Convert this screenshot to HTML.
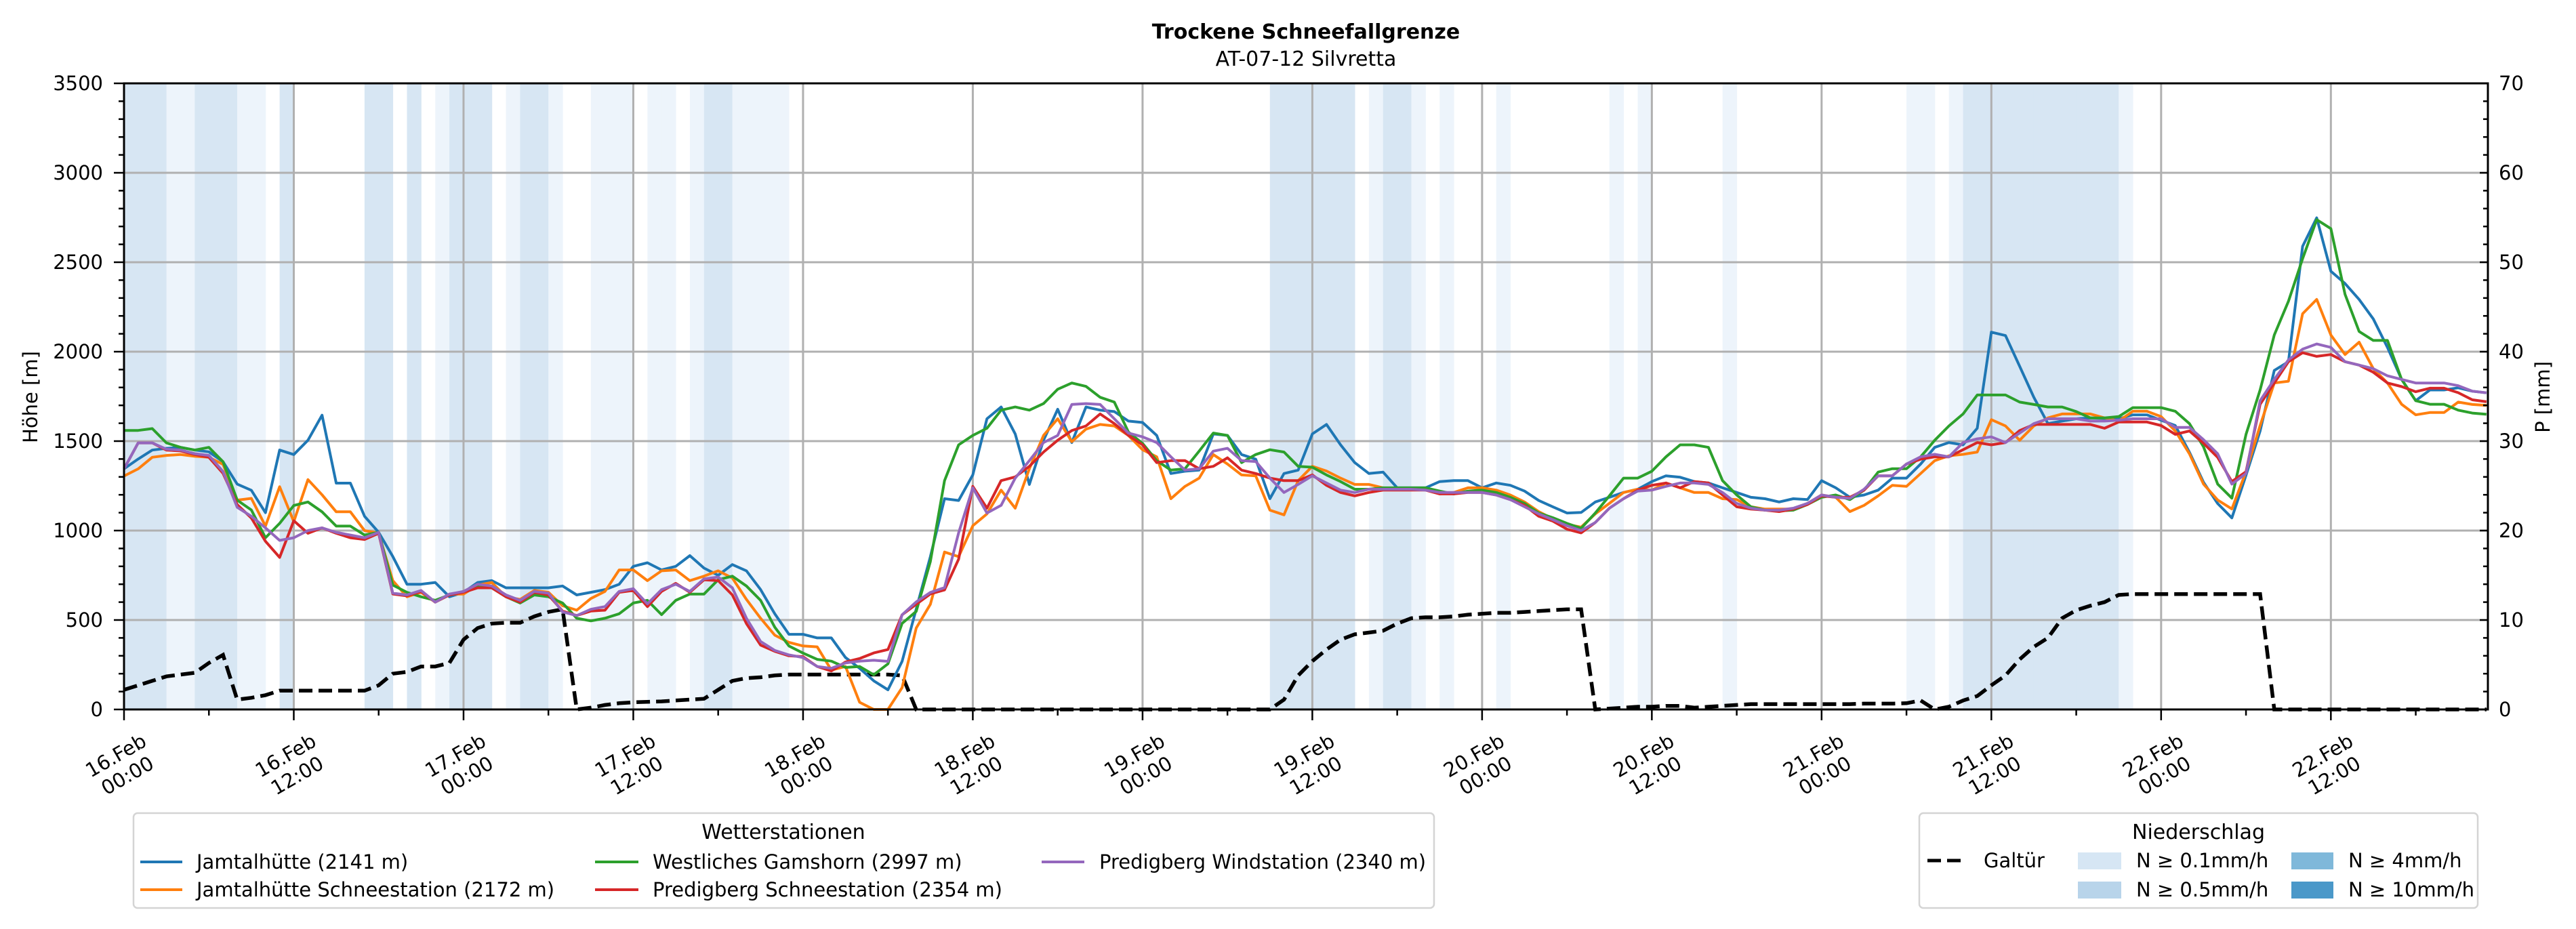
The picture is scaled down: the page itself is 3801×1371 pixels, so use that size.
<!DOCTYPE html>
<html><head><meta charset="utf-8">
<style>
html,body{margin:0;padding:0;background:#fff;}
svg{display:block;font-family:"DejaVu Sans","Liberation Sans",sans-serif;}
</style></head>
<body>
<svg id="chart" width="3801" height="1371" viewBox="0 0 3801 1371" xmlns="http://www.w3.org/2000/svg">
  <rect x="0" y="0" width="3801" height="1371" fill="#fff"/>
  <g id="bands"></g>
  <g id="grid"></g>
  <g id="series"></g>
  <g id="axes"></g>
  <text x="1927" y="57" text-anchor="middle" font-size="30" font-weight="bold">Trockene Schneefallgrenze</text>
  <text x="1927" y="97" text-anchor="middle" font-size="30">AT-07-12 Silvretta</text>
  <text transform="translate(55,586) rotate(-90)" text-anchor="middle" font-size="29">Höhe [m]</text>
  <text transform="translate(3762,586) rotate(-90)" text-anchor="middle" font-size="29">P [mm]</text>

  <g>
    <rect x="197" y="1200" width="1919" height="140" rx="6" fill="#fff" stroke="#d4d4d4" stroke-width="2.5"/>
    <text x="1156" y="1238" text-anchor="middle" font-size="30">Wetterstationen</text>
    <g><line x1="207" y1="1272" x2="269" y2="1272" stroke="#1f77b4" stroke-width="4"/><text x="290" y="1282" font-size="29">Jamtalhütte (2141 m)</text></g>
    <g><line x1="207" y1="1313" x2="269" y2="1313" stroke="#ff7f0e" stroke-width="4"/><text x="290" y="1323" font-size="29">Jamtalhütte Schneestation (2172 m)</text></g>
    <g><line x1="878" y1="1272" x2="942" y2="1272" stroke="#2ca02c" stroke-width="4"/><text x="963" y="1282" font-size="29">Westliches Gamshorn (2997 m)</text></g>
    <g><line x1="878" y1="1313" x2="942" y2="1313" stroke="#d62728" stroke-width="4"/><text x="963" y="1323" font-size="29">Predigberg Schneestation (2354 m)</text></g>
    <g><line x1="1537" y1="1272" x2="1600" y2="1272" stroke="#9467bd" stroke-width="4"/><text x="1622" y="1282" font-size="29">Predigberg Windstation (2340 m)</text></g>
  </g>

  <g>
    <rect x="2832" y="1200" width="824" height="140" rx="6" fill="#fff" stroke="#d4d4d4" stroke-width="2.5"/>
    <text x="3244" y="1238" text-anchor="middle" font-size="30">Niederschlag</text>
    <g><line x1="2844" y1="1270" x2="2900" y2="1270" stroke="#000" stroke-width="5" stroke-dasharray="20,9"/><text x="2927" y="1280" font-size="29">Galtür</text></g>
    <g><rect x="3066" y="1258" width="64" height="25" fill="#d6e6f4"/><text x="3152" y="1280" font-size="29">N ≥ 0.1mm/h</text></g>
    <g><rect x="3066" y="1301" width="64" height="25" fill="#b8d4ea"/><text x="3152" y="1323" font-size="29">N ≥ 0.5mm/h</text></g>
    <g><rect x="3381" y="1258" width="62" height="25" fill="#7fb8da"/><text x="3465" y="1280" font-size="29">N ≥ 4mm/h</text></g>
    <g><rect x="3381" y="1301" width="62" height="25" fill="#4a98c9"/><text x="3465" y="1323" font-size="29">N ≥ 10mm/h</text></g>
  </g>
</svg>
<script>
// ---- data (hourly, hour 0 = 16.Feb 00:00) ----
const jamtal = [1345,1400,1450,1460,1465,1450,1440,1385,1260,1225,1100,1450,1425,1505,1645,1265,1265,1080,990,855,700,700,710,630,655,710,720,680,680,680,680,690,640,655,670,700,800,820,780,800,860,790,750,810,775,670,535,420,420,400,400,290,230,160,110,269,561,854,1178,1168,1311,1625,1691,1540,1258,1505,1678,1492,1691,1673,1665,1612,1604,1532,1319,1332,1338,1540,1532,1425,1399,1178,1319,1338,1540,1593,1479,1380,1319,1327,1239,1239,1239,1274,1279,1279,1239,1266,1253,1221,1168,1133,1098,1101,1160,1186,1213,1231,1274,1306,1298,1274,1266,1239,1213,1186,1178,1160,1178,1173,1279,1239,1186,1199,1226,1293,1293,1372,1465,1492,1479,1572,2109,2090,1918,1745,1598,1612,1625,1630,1627,1625,1647,1647,1617,1587,1438,1270,1151,1071,1309,1557,1895,1944,2589,2748,2450,2381,2292,2183,2024,1845,1726,1786,1786,1798,1779,1770];
const jamtalSchnee = [1305,1345,1410,1420,1425,1415,1410,1370,1170,1180,1025,1245,1050,1285,1200,1105,1105,1000,985,720,630,655,600,645,645,695,710,630,615,665,655,580,555,620,660,780,780,720,775,780,720,745,775,735,615,510,415,375,355,350,220,240,40,0,0,122,455,588,880,854,1027,1093,1226,1125,1346,1532,1625,1497,1567,1593,1585,1532,1452,1412,1178,1247,1293,1425,1372,1311,1306,1114,1088,1279,1359,1333,1293,1258,1258,1239,1231,1231,1231,1205,1213,1239,1239,1226,1199,1160,1106,1066,1035,1019,1093,1152,1213,1231,1226,1266,1239,1213,1213,1178,1173,1133,1120,1120,1120,1152,1199,1186,1106,1141,1194,1253,1247,1319,1391,1418,1426,1439,1620,1585,1505,1585,1630,1652,1652,1652,1630,1612,1667,1667,1637,1557,1429,1260,1171,1121,1329,1587,1825,1835,2212,2292,2093,1984,2053,1905,1825,1706,1647,1660,1660,1718,1705,1700];
const gamshorn = [1560,1560,1570,1490,1465,1450,1465,1385,1170,1115,960,1040,1140,1160,1105,1025,1025,975,990,695,655,630,610,640,660,695,680,630,595,640,630,595,510,495,510,535,595,610,530,610,645,645,725,745,690,610,460,355,315,280,270,235,240,194,255,481,548,827,1279,1479,1532,1572,1673,1691,1673,1710,1790,1825,1806,1745,1718,1551,1487,1391,1338,1346,1444,1545,1532,1380,1425,1452,1439,1359,1354,1311,1274,1231,1231,1239,1239,1239,1239,1221,1205,1221,1226,1213,1186,1152,1098,1072,1040,1013,1098,1194,1293,1293,1332,1412,1479,1479,1465,1279,1199,1133,1114,1110,1114,1146,1186,1199,1173,1226,1327,1346,1346,1412,1505,1585,1652,1758,1758,1758,1718,1705,1691,1691,1665,1630,1630,1637,1687,1687,1687,1667,1598,1468,1260,1181,1538,1786,2093,2282,2520,2738,2688,2321,2113,2063,2063,1845,1726,1706,1706,1673,1657,1650];
const predSchnee = [1345,1490,1490,1450,1445,1425,1410,1320,1145,1070,940,850,1055,985,1015,985,960,950,985,645,635,660,600,640,655,680,680,630,600,655,640,550,525,550,555,655,665,575,660,705,655,725,720,640,480,360,325,300,295,240,215,265,285,316,335,529,588,646,668,840,1247,1125,1279,1300,1359,1439,1505,1559,1585,1652,1598,1532,1479,1380,1391,1391,1346,1359,1407,1338,1319,1293,1279,1279,1311,1253,1213,1194,1213,1226,1226,1226,1226,1205,1205,1213,1213,1199,1173,1141,1080,1053,1008,987,1045,1125,1178,1226,1253,1266,1239,1274,1266,1199,1133,1120,1114,1106,1120,1146,1194,1186,1186,1226,1306,1306,1372,1399,1412,1412,1452,1492,1479,1492,1559,1593,1593,1593,1593,1593,1572,1607,1607,1607,1587,1538,1557,1488,1409,1274,1329,1706,1825,1944,1994,1974,1984,1944,1925,1885,1825,1805,1776,1796,1796,1771,1731,1720];
const predWind = [1345,1490,1490,1455,1450,1430,1420,1330,1130,1080,1015,945,960,1000,1015,990,975,960,990,650,640,665,600,645,660,700,690,640,610,660,650,545,525,560,575,660,675,590,670,700,660,730,740,680,510,380,330,305,290,240,230,260,270,275,269,529,601,654,681,987,1239,1098,1141,1293,1391,1492,1532,1705,1710,1705,1625,1545,1524,1492,1412,1338,1346,1444,1460,1391,1386,1293,1213,1258,1306,1266,1226,1213,1231,1231,1231,1231,1226,1213,1213,1213,1213,1199,1173,1133,1093,1061,1027,1000,1045,1125,1178,1221,1226,1247,1266,1266,1258,1213,1152,1125,1114,1114,1125,1152,1199,1186,1180,1231,1306,1306,1372,1412,1426,1412,1492,1513,1524,1492,1545,1598,1625,1625,1625,1612,1612,1617,1625,1625,1625,1577,1577,1508,1429,1260,1319,1726,1845,1954,2014,2043,2024,1944,1925,1905,1865,1845,1825,1825,1825,1810,1779,1770];
const galtuer = [2.2,2.7,3.2,3.7,3.9,4.1,5.2,6.1,1.1,1.3,1.6,2.1,2.1,2.1,2.1,2.1,2.1,2.1,2.7,4.0,4.2,4.8,4.8,5.2,7.8,9.1,9.6,9.7,9.7,10.4,10.9,11.2,0,0.2,0.5,0.7,0.8,0.85,0.9,1.0,1.1,1.2,2.2,3.2,3.5,3.6,3.8,3.9,3.9,3.9,3.9,3.9,3.9,3.9,3.9,3.8,0,0,0,0,0,0,0,0,0,0,0,0,0,0,0,0,0,0,0,0,0,0,0,0,0,0,1.1,3.8,5.4,6.7,7.8,8.4,8.6,8.8,9.6,10.2,10.3,10.3,10.4,10.6,10.7,10.8,10.8,10.9,11.0,11.1,11.2,11.2,0,0.1,0.2,0.3,0.3,0.4,0.4,0.2,0.3,0.4,0.5,0.6,0.6,0.6,0.6,0.6,0.6,0.6,0.6,0.65,0.65,0.65,0.7,1.0,0,0.3,1.0,1.5,2.7,3.8,5.6,7.0,8.0,10.2,11.1,11.6,12.0,12.8,12.9,12.9,12.9,12.9,12.9,12.9,12.9,12.9,12.9,12.9,0,0,0,0,0,0,0,0,0,0,0,0,0,0,0,0];
// precipitation class per hour: 0 none, 1 N>=0.1, 2 N>=0.5
const precipClass = [2,2,2,1,1,2,2,2,1,1,0,2,0,0,0,0,0,2,2,0,2,0,1,2,2,2,0,1,2,2,1,0,0,1,1,1,0,1,1,0,1,2,2,1,1,1,1,0,0,0,0,0,0,0,0,0,0,0,0,0,0,0,0,0,0,0,0,0,0,0,0,0,0,0,0,0,0,0,0,0,0,2,2,2,2,2,2,0,1,2,2,1,0,1,0,0,0,1,0,0,0,0,0,0,0,1,0,1,0,0,0,0,0,1,0,0,0,0,0,0,0,0,0,0,0,0,1,1,0,1,2,2,2,2,2,2,2,2,2,2,2,1,0,0,0,0,0,0,0,0,0,0,0,0,0,0,0,0,0,0,0,0,0,0,0,0];
const xTickLabels = ["16.Feb|00:00","16.Feb|12:00","17.Feb|00:00","17.Feb|12:00","18.Feb|00:00","18.Feb|12:00","19.Feb|00:00","19.Feb|12:00","20.Feb|00:00","20.Feb|12:00","21.Feb|00:00","21.Feb|12:00","22.Feb|00:00","22.Feb|12:00"];
const yTicks = [0,500,1000,1500,2000,2500,3000,3500];
const y2Ticks = [0,10,20,30,40,50,60,70];

// ---- geometry ----
const L=183,R=3671,T=123,B=1047;
const HMAX=167.1;
const xs = h => L + (R-L)*h/HMAX;
const ys = v => B - (B-T)*v/3500;
const ys2 = v => B - (B-T)*v/70;
const NS="http://www.w3.org/2000/svg";
function mk(tag, attrs, parent){const e=document.createElementNS(NS,tag);for(const k in attrs)e.setAttribute(k,attrs[k]);parent.appendChild(e);return e;}

// bands
const bandG=document.getElementById('bands');
const bandCol=[null,"#edf4fb","#d7e6f3"];
precipClass.forEach((c,h)=>{
  if(!c) return;
  const r=mk('rect',{x:xs(h),y:T,width:xs(h+1)-xs(h)+0.5,height:B-T,fill:bandCol[c]},bandG);
  
  
});

// grid
const gridG=document.getElementById('grid');
xTickLabels.forEach((_,i)=>{
  const x=xs(i*12);
  const l=mk('line',{x1:x,y1:T,x2:x,y2:B,stroke:"#b0b0b0","stroke-width":3},gridG);
  
  
});
yTicks.forEach(v=>{
  const y=ys(v);
  const l=mk('line',{x1:L,y1:y,x2:R,y2:y,stroke:"#b0b0b0","stroke-width":3},gridG);
  
  
});

// series
const serG=document.getElementById('series');
function line(data, scale, color, name, extra){
  const pts=data.map((v,h)=>xs(h).toFixed(1)+","+scale(v).toFixed(1)).join(" ");
  const p=mk('polyline',Object.assign({points:pts,fill:"none",stroke:color,"stroke-width":4,"stroke-linejoin":"round"},extra||{}),serG);
  
  
}
line(galtuer, ys2, "#000", "galtuer-precip-line", {"stroke-width":5.5,"stroke-dasharray":"20,9","stroke-linejoin":"miter"});
line(jamtal, ys, "#1f77b4", "jamtalhuette-line");
line(jamtalSchnee, ys, "#ff7f0e", "jamtalhuette-schneestation-line");
line(gamshorn, ys, "#2ca02c", "westliches-gamshorn-line");
line(predSchnee, ys, "#d62728", "predigberg-schneestation-line");
line(predWind, ys, "#9467bd", "predigberg-windstation-line");

// axes
const axG=document.getElementById('axes');
const frame=mk('rect',{x:L,y:T,width:R-L,height:B-T,fill:"none",stroke:"#000","stroke-width":3},axG);


for(let v=0;v<=3500;v+=100){
  const y=ys(v), major=v%500===0;
  mk('line',{x1:L-(major?15:8),y1:y,x2:L,y2:y,stroke:"#000","stroke-width":2.5},axG);
}
yTicks.forEach(v=>{
  const t=mk('text',{x:152,y:ys(v)+10,"text-anchor":"end","font-size":29},axG);
  t.textContent=v;
  
  
});
for(let v=0;v<=70;v+=2){
  const y=ys2(v), major=v%10===0;
  mk('line',{x1:R-(major?12:7),y1:y,x2:R,y2:y,stroke:"#000","stroke-width":2.5},axG);
}
y2Ticks.forEach(v=>{
  const t=mk('text',{x:3687,y:ys2(v)+10,"font-size":29},axG);
  t.textContent=v;
  
  
});
for(let h=0;h<=166;h+=6){
  const x=xs(h), major=h%12===0;
  mk('line',{x1:x,y1:B,x2:x,y2:B+(major?16:9),stroke:"#000","stroke-width":2.5},axG);
}
xTickLabels.forEach((lab,i)=>{
  const parts=lab.split("|");
  const g=mk('g',{transform:`translate(${xs(i*12)-4},1129) rotate(-30)`},axG);
  
  
  const t1=mk('text',{x:0,y:-6,"text-anchor":"middle","font-size":29},g); t1.textContent=parts[0];
  const t2=mk('text',{x:0,y:28,"text-anchor":"middle","font-size":29},g); t2.textContent=parts[1];
});
</script>
</body></html>
